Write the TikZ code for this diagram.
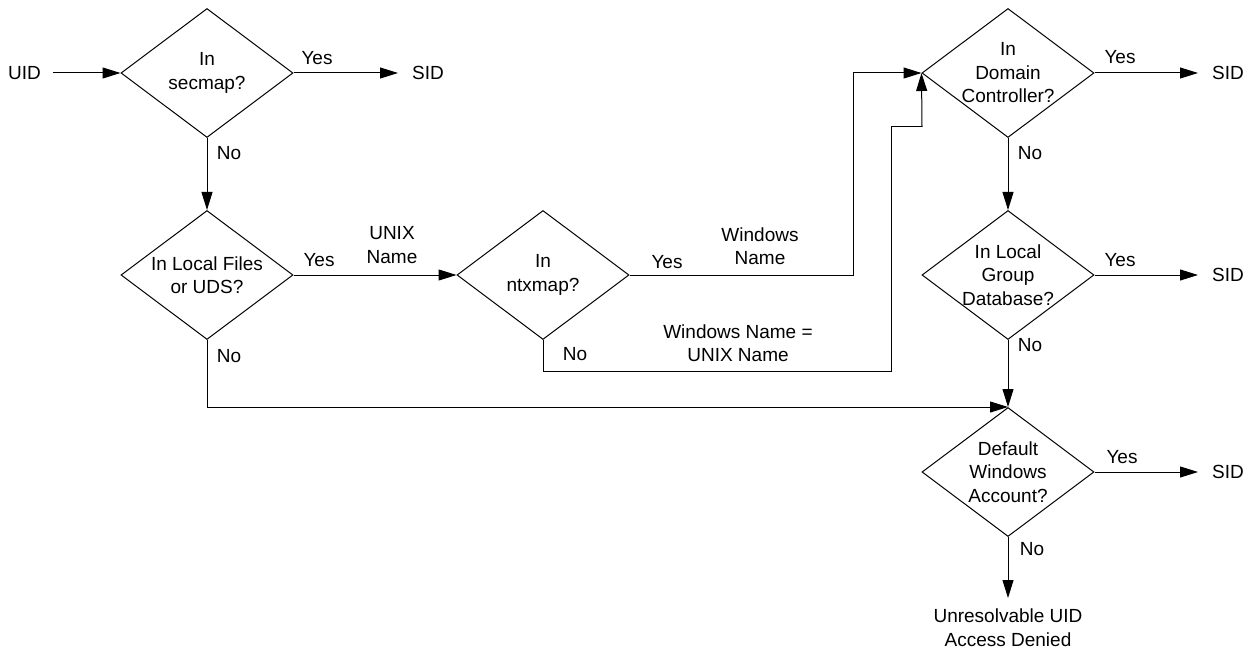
\documentclass[tikz,border=0pt]{standalone}
\usepackage{fontspec}
\setmainfont{Liberation Sans}
\usetikzlibrary{shapes.geometric,arrows.meta}
\begin{document}
\begin{tikzpicture}[x=1pt,y=-1pt,
  every node/.style={font=\fontsize{19}{23.5}\selectfont, align=center},
  decision/.style={draw, line width=1pt, shape=diamond, inner sep=0pt,
    minimum width=172pt, minimum height=129pt},
  terminal/.style={inner sep=0pt},
  lbl/.style={inner sep=0pt},
  flow/.style={line width=1pt, -{Triangle[length=18pt,width=11pt]}},
  plain/.style={line width=1pt}]
\useasboundingbox (0,0) rectangle (1252,660);

% decision nodes
\node[decision, label={[align=center]center:In\\secmap?}] (d1) at (207,73) {};
\node[decision, label={[align=center]center:In Local Files\\or UDS?}] (d2) at (207,275) {};
\node[decision, label={[align=center]center:In\\ntxmap?}] (d3) at (543,275) {};
\node[decision, label={[align=center]center:In\\Domain\\Controller?}] (d4) at (1008,73) {};
\node[decision, label={[align=center]center:In Local\\Group\\Database?}] (d5) at (1008,275) {};
\node[decision, label={[align=center]center:Default\\Windows\\Account?}] (d6) at (1008,472) {};

% terminals
\node[terminal, anchor=east] (uid) at (41,73) {UID};
\node[terminal, anchor=west] (sid1) at (412,73) {SID};
\node[terminal, anchor=west] (sid2) at (1212,73) {SID};
\node[terminal, anchor=west] (sid3) at (1212,275) {SID};
\node[terminal, anchor=west] (sid4) at (1212,472) {SID};
\node[terminal, anchor=north] (deny) at (1008,609) {Unresolvable UID\\Access Denied};

% routing points
\coordinate (c1) at (853,73);
\coordinate (c2) at (543,371);
\coordinate (c3) at (891,371);
\coordinate (c4) at (891,127);
\coordinate (c5) at (922,127);

% connectors
\draw[flow] ([xshift=12pt]uid.east) -- (d1.west);
\draw[flow] (d1.east) -- ([xshift=-14pt]sid1.west);
\draw[flow] (d1.south) -- (d2.north);
\draw[flow] (d2.east) -- (d3.west);
\draw[flow] (d2.south) -- (d2.south |- d6.north) -- (d6.north);
\draw[flow] (d3.east) -| (c1) -- (d4.west);
\draw[plain] (d3.south) -- (c2) -- (c3) -- (c4) -- (c5);
\draw[flow] (c5) -- (d4.west);
\draw[flow] (d4.east) -- ([xshift=-14pt]sid2.west);
\draw[flow] (d4.south) -- (d5.north);
\draw[flow] (d5.east) -- ([xshift=-14pt]sid3.west);
\draw[flow] (d5.south) -- (d6.north);
\draw[flow] (d6.east) -- ([xshift=-14pt]sid4.west);
\draw[flow] (d6.south) -- ([yshift=11pt]deny.north);

% branch labels
\node[lbl] at (317,58) {Yes};
\node[lbl] at (229,153) {No};
\node[lbl] at (319,260) {Yes};
\node[lbl] at (229,356) {No};
\node[lbl] at (392,245) {UNIX\\Name};
\node[lbl] at (667,262) {Yes};
\node[lbl] at (760,246) {Windows\\Name};
\node[lbl] at (575,354) {No};
\node[lbl] at (738,343) {Windows Name =\\UNIX Name};
\node[lbl] at (1120,57) {Yes};
\node[lbl] at (1030,153) {No};
\node[lbl] at (1120,260) {Yes};
\node[lbl] at (1030,345) {No};
\node[lbl] at (1122,457) {Yes};
\node[lbl] at (1032,549) {No};
\end{tikzpicture}
\end{document}
